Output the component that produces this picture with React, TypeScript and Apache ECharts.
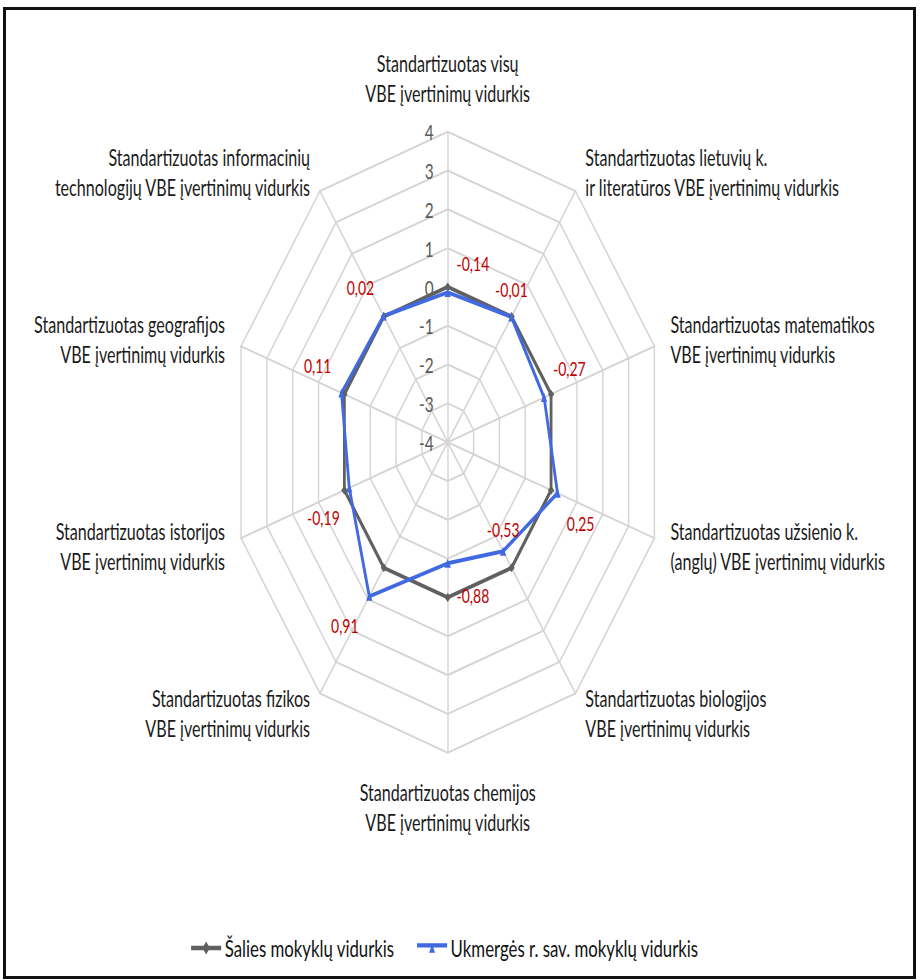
import React, { useEffect, useRef } from 'react';
import * as echarts from 'echarts';

// ---- data (listed clockwise from the top) ----
const CATEGORIES = [
  'Standartizuotas visų\nVBE įvertinimų vidurkis',
  'Standartizuotas lietuvių k.\nir literatūros VBE įvertinimų vidurkis',
  'Standartizuotas matematikos\nVBE įvertinimų vidurkis',
  'Standartizuotas užsienio k.\n(anglų) VBE įvertinimų vidurkis',
  'Standartizuotas biologijos\nVBE įvertinimų vidurkis',
  'Standartizuotas chemijos\nVBE įvertinimų vidurkis',
  'Standartizuotas fizikos\nVBE įvertinimų vidurkis',
  'Standartizuotas istorijos\nVBE įvertinimų vidurkis',
  'Standartizuotas geografijos\nVBE įvertinimų vidurkis',
  'Standartizuotas informacinių\ntechnologijų VBE įvertinimų vidurkis',
];
const SALIES = [0, 0, 0, 0, 0, 0, 0, 0, 0, 0];
const UKMERGE = [-0.14, -0.01, -0.27, 0.25, -0.53, -0.88, 0.91, -0.19, 0.11, 0.02];
const SERIES_NAMES = ['Šalies mokyklų vidurkis', 'Ukmergės r. sav. mokyklų vidurkis'];
const AXIS_MIN = -4;
const AXIS_MAX = 4;
const SPLITS = 8;

// ---- styling / layout ----
const SX = 0.7; // horizontal squeeze of the original picture
const W = Math.round(923 / SX);
const FONT = 'Lato, "Noto Sans", sans-serif';
// label shift from its point (unscaled px): [dx, dy], in the clockwise order above
const LABEL_SHIFT: [number, number][] = [
  [36, -29], [0, -27], [36, -29], [33, 30], [0, -22],
  [36, 32], [-35, 29], [-37, 30], [-34, -27], [-33, -29],
];

// ECharts draws radar axes counter-clockwise: reorder so the picture runs clockwise
const ORDER = CATEGORIES.map((_, i) => (i === 0 ? 0 : CATEGORIES.length - i));
const pick = <T,>(arr: T[]) => ORDER.map((k) => arr[k]);

const fmt = (v: number) => v.toFixed(2).replace('.', ',');

export default function App() {
  const ref = useRef<HTMLDivElement>(null);
  useEffect(() => {
    if (!ref.current) return;
    const chart = echarts.init(ref.current, undefined, { renderer: 'svg' });
    const rich: Record<string, any> = {};
    LABEL_SHIFT.forEach(([dx, dy], i) => {
      rich['p' + i] = {
        color: '#C00000',
        fontSize: 20,
        fontFamily: FONT,
        padding: [Math.max(0, 2 * dy), Math.max(0, -2 * dx), Math.max(0, -2 * dy), Math.max(0, 2 * dx)],
      };
    });
    chart.setOption({
      animation: false,
      backgroundColor: 'transparent',
      legend: {
        left: 268,
        top: 931,
        itemGap: 32,
        itemWidth: 43,
        itemHeight: 13,
        textStyle: { fontSize: 24, color: '#111', fontFamily: FONT },
        data: [
          { name: SERIES_NAMES[0], icon: 'path://M0,5 L40,5 L40,9 L0,9 Z M20,1 L25,7 L20,13 L15,7 Z' },
          { name: SERIES_NAMES[1], icon: 'path://M0,3 L40,3 L40,7 L0,7 Z M20,4 L24,12 L16,12 Z' },
        ],
      },
      radar: {
        center: [639.6, 442.2],
        radius: 310.5,
        shape: 'polygon',
        splitNumber: SPLITS,
        startAngle: 90,
        nameGap: 24,
        axisName: { color: '#1a1a1a', fontSize: 23, fontFamily: FONT, lineHeight: 30 },
        axisLine: { lineStyle: { color: '#d4d4d4', width: 2 } },
        splitLine: { lineStyle: { color: '#d4d4d4', width: 2 } },
        splitArea: { show: false },
        axisTick: { show: false },
        axisLabel: { show: false },
        indicator: pick(CATEGORIES).map((name, i) => ({
          name,
          min: AXIS_MIN,
          max: AXIS_MAX,
          ...(i === 0
            ? { axisLabel: { show: true, color: '#595959', fontSize: 22, fontFamily: FONT, margin: 20, showMinLabel: true, showMaxLabel: true } }
            : {}),
        })),
      },
      series: [
        {
          type: 'radar',
          name: SERIES_NAMES[0],
          symbol: 'diamond',
          symbolSize: 9,
          lineStyle: { color: '#606060', width: 4 },
          itemStyle: { color: '#606060' },
          data: [{ name: SERIES_NAMES[0], value: pick(SALIES) }],
        },
        {
          type: 'radar',
          name: SERIES_NAMES[1],
          symbol: 'triangle',
          symbolSize: 9,
          lineStyle: { color: '#4169E1', width: 4 },
          itemStyle: { color: '#4169E1' },
          label: {
            show: true,
            position: 'inside',
            formatter: (p: any) => {
              let v = p.value;
              const di = p.dimensionIndex;
              if (Array.isArray(v)) v = v[di ?? 0];
              const orig = di != null ? ORDER[di] : UKMERGE.indexOf(v);
              return `{p${orig}|${fmt(v)}}`;
            },
            rich,
          },
          data: [{ name: SERIES_NAMES[1], value: pick(UKMERGE) }],
        },
      ],
    });
    return () => chart.dispose();
  }, []);

  return (
    <div style={{ position: 'fixed', left: 0, top: 0, width: 923, height: 980, background: '#fff', overflow: 'hidden' }}>
      <div
        style={{
          position: 'absolute', left: 3, top: 7, width: 913, height: 972,
          border: '3px solid #111', boxSizing: 'border-box',
        }}
      />
      <div
        ref={ref}
        style={{
          position: 'absolute', left: 0, top: 0, width: W, height: 980,
          transform: `scaleX(${SX})`, transformOrigin: '0 0',
        }}
      />
    </div>
  );
}
